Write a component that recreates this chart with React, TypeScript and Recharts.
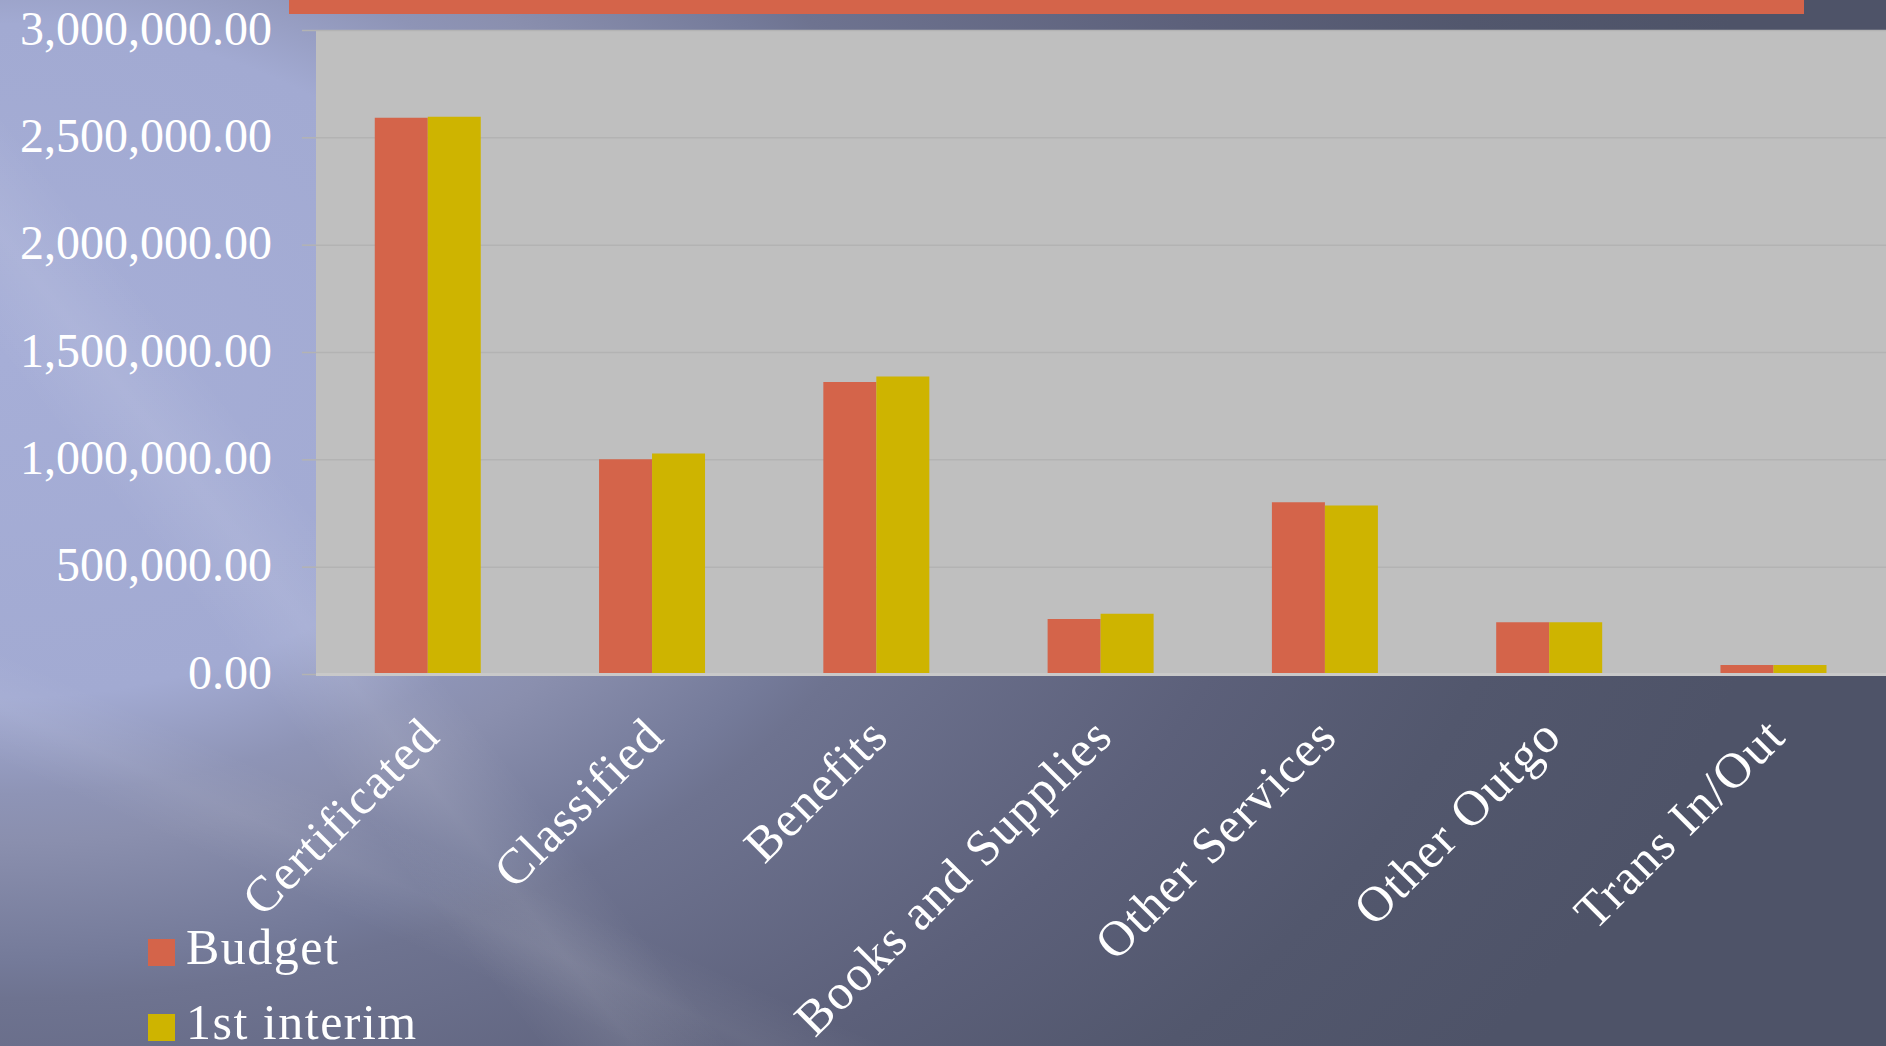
import React from 'react';
import { BarChart, Bar, XAxis, YAxis, CartesianGrid, Legend } from 'recharts';

const categories = ['Certificated', 'Classified', 'Benefits', 'Books and Supplies', 'Other Services', 'Other Outgo', 'Trans In/Out'];
const budget = [2594000, 1003000, 1363000, 259000, 802000, 243000, 44000];
const interim = [2598000, 1029000, 1388000, 283000, 787000, 243000, 44000];
const yTicks = [0, 500000, 1000000, 1500000, 2000000, 2500000, 3000000];
const seriesNames = ['Budget', '1st interim'];
const seriesColors = ['#d4644a', '#ceb400'];

const data = categories.map((c, i) => ({ name: c, budget: budget[i], interim: interim[i] }));

const FONT = "'Liberation Serif', 'Times New Roman', serif";

const fmt = (v: number) => v.toLocaleString('en-US', { minimumFractionDigits: 2, maximumFractionDigits: 2 });

const YTick = (props: any) => {
  const { x, y, payload } = props;
  return (
    <text x={x + 2} y={y} dy={14} textAnchor="end" fill="#ffffff" fontSize={48} fontFamily={FONT}>
      {fmt(payload.value)}
    </text>
  );
};

const XTick = (props: any) => {
  const { x, y, payload } = props;
  return (
    <g transform={`translate(${x - 11},${y + 39})`}>
      <text transform="rotate(-45)" textAnchor="end" dy="0.71em" fill="#ffffff" fontSize={50} letterSpacing={1.5} fontFamily={FONT}>
        {payload.value}
      </text>
    </g>
  );
};

const LegendContent = () => (
  <div style={{ position: 'relative', width: 0, height: 0, fontFamily: FONT, color: '#fff', fontSize: 50, letterSpacing: 1.5 }}>
    {seriesNames.map((n, i) => (
      <div key={n} style={{ position: 'absolute', left: 0, top: i * 75, height: 60, whiteSpace: 'nowrap' }}>
        <div style={{ position: 'absolute', left: 0, top: 4, width: 27, height: 27, background: seriesColors[i] }} />
        <div style={{ position: 'absolute', left: 38, top: -18, lineHeight: '60px' }}>{n}</div>
      </div>
    ))}
  </div>
);

export default function App() {
  return (
    <div
      style={{
        position: 'absolute',
        left: 0,
        top: 0,
        width: 1886,
        height: 1046,
        overflow: 'hidden',
        background:
          'linear-gradient(52deg, rgba(255,255,255,0) 20%, rgba(255,255,255,0.09) 23.5%, rgba(255,255,255,0) 27%),' +
          'linear-gradient(24deg, rgba(255,255,255,0) 15%, rgba(255,255,255,0.06) 18%, rgba(255,255,255,0) 21%),' +
          'radial-gradient(ellipse 1804px 1203px at 0px 361px, #a6aed7 0%, #a2aad2 28%, #8e94b6 36%, #8a8fae 40%, #747a99 50%, #6e7390 53%, #5c607a 72%, #52576d 86%, #4e5368 100%)',
      }}
    >
      <div style={{ position: 'absolute', left: 289, top: 0, width: 1515, height: 14, background: '#d4644a' }} />
      <BarChart
        width={1886}
        height={1046}
        data={data}
        margin={{ top: 30.5, right: 0, left: 0, bottom: 0 }}
        barCategoryGap="26.2%"
        barGap={0}
      >
        <CartesianGrid vertical={false} fill="#bfbfbf" stroke="#b3b3b3" strokeWidth={1.5} />
        <XAxis
          dataKey="name"
          interval={0}
          height={371.5}
          tickSize={0}
          tickMargin={0}
          tick={<XTick />}
          axisLine={{ stroke: '#c9c9c9', strokeWidth: 3 }}
          tickLine={false}
        />
        <YAxis
          width={316}
          domain={[0, 3000000]}
          ticks={yTicks}
          interval={0}
          tickSize={14}
          tickMargin={32}
          tick={<YTick />}
          axisLine={false}
          tickLine={{ stroke: '#b3b3b3', strokeWidth: 1.5 }}
        />
        <Legend
          verticalAlign="bottom"
          content={<LegendContent />}
          wrapperStyle={{ position: 'absolute', left: 148, top: 935, width: 0, height: 0, overflow: 'visible' }}
        />
        <Bar dataKey="budget" name={seriesNames[0]} fill={seriesColors[0]} isAnimationActive={false} />
        <Bar dataKey="interim" name={seriesNames[1]} fill={seriesColors[1]} isAnimationActive={false} />
      </BarChart>
    </div>
  );
}
